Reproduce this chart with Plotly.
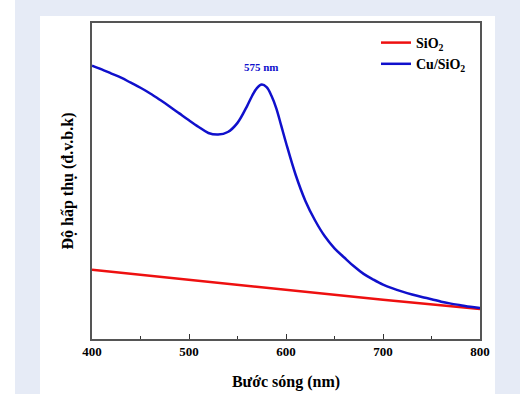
import plotly.graph_objects as go

# Data (arbitrary absorbance units)
wl_cu = [400, 410, 420, 430, 440, 450, 460, 470, 480, 490, 500, 510, 520, 530, 540,
         550, 560, 565, 570, 575, 580, 585, 590, 595, 600, 610, 620, 630, 640, 650,
         660, 670, 680, 690, 700, 710, 720, 730, 740, 750, 760, 770, 780, 790, 800]
abs_cu = [0.865, 0.853, 0.840, 0.827, 0.811, 0.795, 0.777, 0.757, 0.736, 0.714,
          0.692, 0.671, 0.652, 0.647, 0.655, 0.684, 0.738, 0.769, 0.794, 0.805,
          0.797, 0.770, 0.730, 0.676, 0.621, 0.519, 0.437, 0.375, 0.325, 0.287,
          0.258, 0.230, 0.206, 0.188, 0.172, 0.160, 0.150, 0.141, 0.133, 0.126,
          0.118, 0.112, 0.107, 0.102, 0.098]
wl_si = [400, 500, 600, 700, 800]
abs_si = [0.219, 0.187, 0.155, 0.124, 0.095]

peak_x = 575
peak_label = "575 nm"

RED = "#EE1010"
BLUE = "#1010CC"
FONT = "Liberation Serif"

fig = go.Figure()
fig.add_trace(go.Scatter(x=wl_si, y=abs_si, mode="lines", name="<b>SiO<sub>2</sub></b>",
                         line=dict(color=RED, width=2.5)))
fig.add_trace(go.Scatter(x=wl_cu, y=abs_cu, mode="lines", name="<b>Cu/SiO<sub>2</sub></b>",
                         line=dict(color=BLUE, width=2.5, shape="spline", smoothing=1)))

fig.add_annotation(x=peak_x, y=0.836, text="<b>" + peak_label + "</b>", showarrow=False,
                   font=dict(family=FONT, size=11, color=BLUE), yanchor="bottom")

L, R, T, B = 92, 45, 23, 55
W, H = 525, 394
pw, ph = W - L - R, H - T - B

def px2x(px):
    return (px - L) / pw

def py2y(py):
    return (H - B - py) / ph

fig.add_shape(type="rect", xref="paper", yref="paper", layer="below",
              x0=px2x(15), x1=px2x(520), y0=py2y(394), y1=py2y(0),
              fillcolor="#E6EBF6", line=dict(width=0))
fig.add_shape(type="rect", xref="paper", yref="paper", layer="below",
              x0=px2x(40), x1=px2x(495), y0=py2y(394), y1=py2y(16),
              fillcolor="#FFFFFF", line=dict(width=0))

fig.update_layout(
    width=W, height=H,
    margin=dict(l=L, r=R, t=T, b=B, autoexpand=False),
    paper_bgcolor="#FFFFFF", plot_bgcolor="#FFFFFF",
    font=dict(family=FONT, color="black"),
    showlegend=True,
    legend=dict(x=px2x(376), y=py2y(27), xanchor="left", yanchor="top",
                bgcolor="rgba(0,0,0,0)", font=dict(family=FONT, size=14, color="black"),
                tracegroupgap=0, itemwidth=30),
)
fig.update_xaxes(range=[400, 800], showgrid=False, zeroline=False, automargin=False,
                 showline=True, mirror=True, linecolor="#555555", linewidth=1.5,
                 ticks="inside", ticklen=5, tickwidth=1.2, tickcolor="#333333",
                 tickvals=[400, 500, 600, 700, 800],
                 ticktext=["<b>400</b>", "<b>500</b>", "<b>600</b>", "<b>700</b>", "<b>800</b>"],
                 tickfont=dict(family=FONT, size=13, color="black"),
                 minor=dict(tickvals=[450, 550, 650, 750], ticks="inside", ticklen=3,
                            tickwidth=1.2, tickcolor="#333333"),
                 title=dict(text="<b>Bước sóng (nm)</b>", font=dict(family=FONT, size=16),
                            standoff=17))
fig.update_yaxes(range=[0, 1.0], showgrid=False, zeroline=False, automargin=False,
                 showline=True, mirror=True, linecolor="#555555", linewidth=1.5,
                 showticklabels=False, ticks="",
                 title=dict(text="<b>Độ hấp thụ (đ.v.b.k)</b>", font=dict(family=FONT, size=16),
                            standoff=13))

fig.write_html("out.html")
